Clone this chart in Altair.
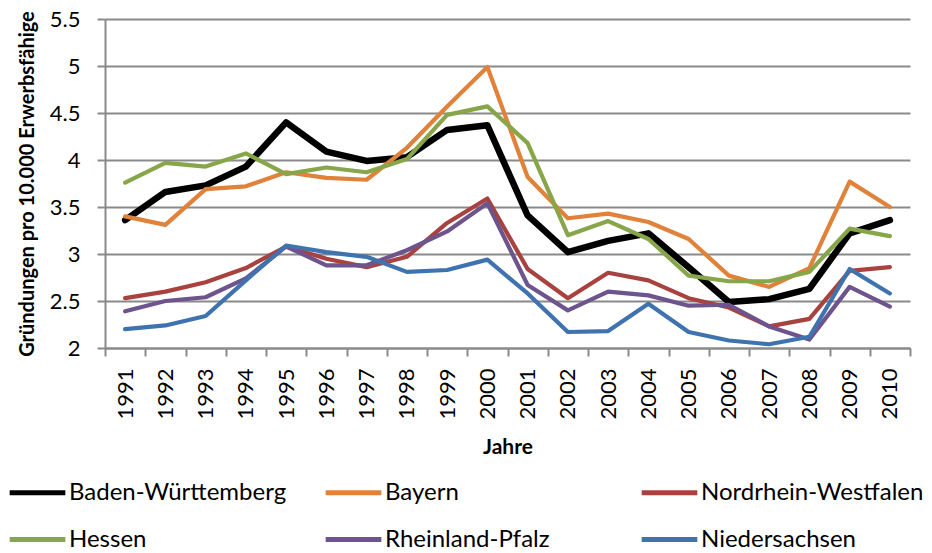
import altair as alt
import pandas as pd

years = list(range(1991, 2011))
series_names = ["Baden-Württemberg", "Bayern", "Nordrhein-Westfalen",
                "Hessen", "Rheinland-Pfalz", "Niedersachsen"]
colors = ["#000000", "#E0823A", "#A8423F", "#87A64A", "#6E548D", "#3F73AF"]

bw = [3.36, 3.66, 3.73, 3.93, 4.40, 4.09, 3.99, 4.03, 4.32, 4.37,
      3.41, 3.02, 3.14, 3.22, 2.86, 2.49, 2.52, 2.63, 3.22, 3.36]
by = [3.40, 3.31, 3.69, 3.72, 3.87, 3.81, 3.79, 4.13, 4.57, 4.99,
      3.82, 3.38, 3.43, 3.34, 3.16, 2.77, 2.65, 2.85, 3.77, 3.50]
nrw = [2.53, 2.60, 2.70, 2.85, 3.08, 2.95, 2.86, 2.97, 3.33, 3.59,
       2.84, 2.53, 2.80, 2.72, 2.53, 2.43, 2.23, 2.31, 2.82, 2.86]
he = [3.76, 3.97, 3.93, 4.07, 3.85, 3.92, 3.87, 4.01, 4.48, 4.57,
      4.18, 3.20, 3.35, 3.16, 2.77, 2.71, 2.71, 2.81, 3.27, 3.19]
rp = [2.39, 2.50, 2.54, 2.74, 3.08, 2.88, 2.88, 3.04, 3.24, 3.54,
      2.67, 2.40, 2.60, 2.56, 2.45, 2.46, 2.23, 2.09, 2.65, 2.44]
ns = [2.20, 2.24, 2.34, 2.72, 3.09, 3.02, 2.97, 2.81, 2.83, 2.94,
      2.58, 2.17, 2.18, 2.47, 2.17, 2.08, 2.04, 2.12, 2.84, 2.58]
y_ticks = [2, 2.5, 3, 3.5, 4, 4.5, 5, 5.5]

all_vals = [bw, by, nrw, he, rp, ns]
rows = []
for i, (name, vals) in enumerate(zip(series_names, all_vals)):
    for yr, v in zip(years, vals):
        rows.append({"Jahr": str(yr), "Wert": v, "Land": name, "ord": i})
df = pd.DataFrame(rows)

FONT = "Lato"

chart = alt.Chart(df).mark_line(strokeCap="round", strokeJoin="round").encode(
    x=alt.X("Jahr:O", title="Jahre",
            scale=alt.Scale(paddingInner=0, paddingOuter=0),
            axis=alt.Axis(labelAngle=270, tickBand="extent", grid=False,
                          tickSize=8, labelPadding=12, labelFontSize=22,
                          titleFontSize=21, titleFontWeight="bold",
                          titlePadding=17, domainColor="#8a8a8a",
                          tickColor="#8a8a8a", domainWidth=2, tickWidth=2)),
    y=alt.Y("Wert:Q", title="Gründungen pro 10.000 Erwerbsfähige",
            scale=alt.Scale(domain=[2, 5.5], nice=False, zero=False),
            axis=alt.Axis(values=y_ticks, format=".1~f", tickSize=8,
                          labelPadding=17, labelFontSize=22,
                          titleFontSize=20, titleFontWeight="bold",
                          titlePadding=12, gridColor="#8a8a8a", gridWidth=2,
                          domainColor="#8a8a8a", tickColor="#8a8a8a",
                          domainWidth=2, tickWidth=2)),
    color=alt.Color("Land:N", title=None,
                    scale=alt.Scale(domain=series_names, range=colors),
                    legend=alt.Legend(orient="none", legendX=-98, legendY=443,
                                      direction="horizontal", columns=3,
                                      gridAlign="all", columnPadding=23,
                                      rowPadding=4, symbolType="stroke",
                                      symbolSize=3100, symbolStrokeWidth=5,
                                      labelFontSize=24, labelOffset=1,
                                      labelLimit=400)),
    strokeWidth=alt.condition(alt.datum.Land == "Baden-Württemberg",
                              alt.value(6.5), alt.value(4.2)),
    order=alt.Order("ord:Q"),
).properties(
    width=805, height=329,
    autosize=alt.AutoSizeParams(type="none"),
    padding={"left": 97, "top": 11, "right": 14, "bottom": 205},
).configure_axis(
    labelFont=FONT, titleFont=FONT, labelColor="#000000", titleColor="#000000"
).configure_legend(
    labelFont=FONT, labelColor="#000000"
).configure_view(stroke=None)

chart.save("out.html", embed_options={"renderer": "svg", "actions": False})
